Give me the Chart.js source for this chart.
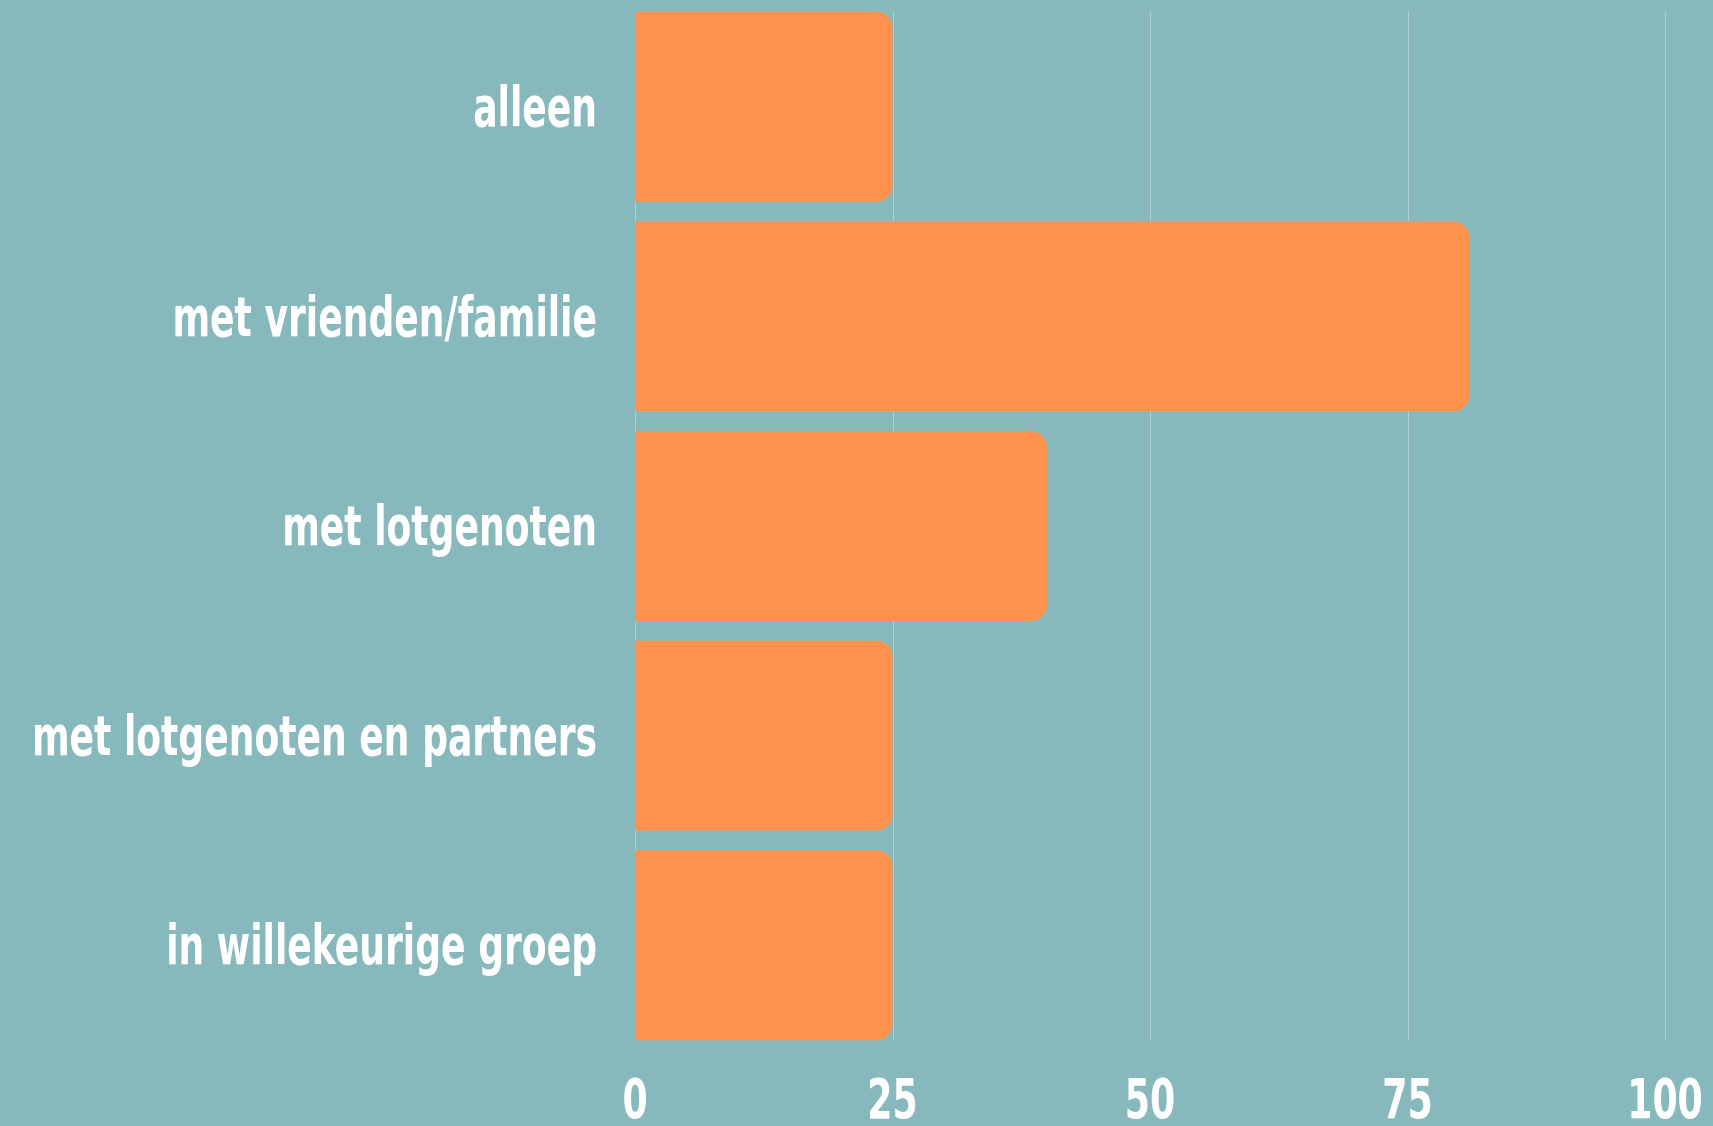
<!DOCTYPE html>
<html>
<head>
<meta charset="utf-8">
<script src="https://cdn.jsdelivr.net/npm/chart.js@4"></script>
<style>
  html, body { margin: 0; padding: 0; background: #87b9bc; }
  #wrap { width: 1713px; height: 1126px; }
</style>
</head>
<body>
<div id="wrap"><canvas id="c"></canvas></div>
<script>
  // Categorieën en waarden
  const categories = ['alleen', 'met vrienden/familie', 'met lotgenoten', 'met lotgenoten en partners', 'in willekeurige groep'];
  const values = [25, 81, 40, 25, 25];
  const xTicks = [0, 25, 50, 75, 100];

  const FONT = '"DejaVu Sans Condensed", "DejaVu Sans", sans-serif';
  const SQUEEZE = 0.73; // smaller letters, like the condensed font of the original

  // grid lines only over the height of the bars
  const barGrid = {
    id: 'barGrid',
    beforeDatasetsDraw(chart) {
      const x = chart.scales.x, bars = chart.getDatasetMeta(0).data;
      if (!bars.length) return;
      const top = bars[0].y - bars[0].height / 2;
      const last = bars[bars.length - 1];
      const bottom = last.y + last.height / 2;
      const ctx = chart.ctx;
      ctx.save();
      ctx.strokeStyle = 'rgba(255,255,255,0.35)';
      ctx.lineWidth = 1;
      x.ticks.forEach((t) => {
        const px = Math.round(x.getPixelForValue(t.value)) + 0.5;
        ctx.beginPath(); ctx.moveTo(px, top); ctx.lineTo(px, bottom); ctx.stroke();
      });
      ctx.restore();
    },
  };

  // axis labels, drawn narrow
  const narrowLabels = {
    id: 'narrowLabels',
    afterDraw(chart) {
      const { ctx, scales: { x, y } } = chart;
      ctx.save();
      ctx.fillStyle = '#ffffff';
      ctx.font = `bold 55px ${FONT}`;
      ctx.textAlign = 'right';
      ctx.textBaseline = 'middle';
      y.ticks.forEach((t, i) => {
        ctx.save();
        ctx.translate(y.right - 38, y.getPixelForTick(i) + 5);
        ctx.scale(SQUEEZE, 1);
        ctx.fillText(y.getLabelForValue(t.value), 0, 0);
        ctx.restore();
      });
      ctx.font = `bold 56px ${FONT}`;
      ctx.textAlign = 'center';
      ctx.textBaseline = 'alphabetic';
      x.ticks.forEach((t) => {
        ctx.save();
        ctx.translate(x.getPixelForValue(t.value), x.top + 68);
        ctx.scale(0.72, 1);
        ctx.fillText(String(t.value), 0, 0);
        ctx.restore();
      });
      ctx.restore();
    },
  };

  new Chart(document.getElementById('c'), {
    type: 'bar',
    data: {
      labels: categories,
      datasets: [{
        data: values,
        backgroundColor: '#fe914c',
        borderWidth: 0,
        borderRadius: 16,
        borderSkipped: 'start',
        categoryPercentage: 1,
        barPercentage: 0.906,
      }],
    },
    options: {
      indexAxis: 'y',
      responsive: true,
      maintainAspectRatio: false,
      animation: false,
      layout: { padding: { top: 2, right: 48, bottom: 0, left: 0 } },
      plugins: { legend: { display: false }, tooltip: { enabled: false } },
      scales: {
        x: {
          min: 0, max: 100,
          afterBuildTicks: (s) => { s.ticks = xTicks.map((v) => ({ value: v })); },
          afterFit: (s) => { s.height = 76; s.paddingLeft = 0; s.paddingRight = 0; },
          grid: { display: false },
          border: { display: false },
          ticks: { display: false },
        },
        y: {
          afterFit: (s) => { s.width = 635; s.paddingTop = 0; s.paddingBottom = 0; },
          grid: { display: false },
          border: { display: false },
          ticks: { display: false },
        },
      },
    },
    plugins: [barGrid, narrowLabels],
  });
</script>
</body>
</html>
